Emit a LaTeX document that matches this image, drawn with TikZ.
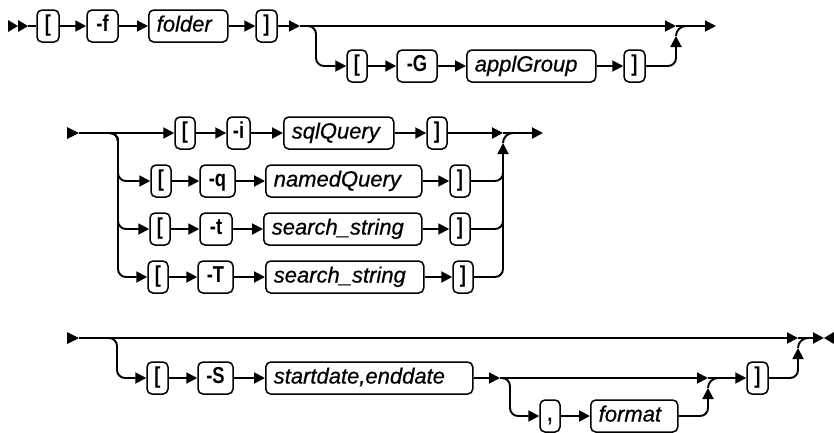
\documentclass[tikz,border=0pt]{standalone}
\usepackage{fontspec}
\setmainfont{Liberation Sans}
\newfontfamily\flagfont[FakeStretch=0.8]{Liberation Sans}
\newfontfamily\varfont[FakeBold=0.6]{Liberation Sans}
\usetikzlibrary{arrows.meta}
\tikzset{
  ln/.style={line width=1.9pt},
  ar/.style={line width=1.9pt, -{Triangle[length=11pt,width=11pt]}},
  rc/.style={rounded corners=8pt},
  tbox/.style={draw, rounded corners=5pt, line width=1.5pt, minimum height=32pt,
    inner sep=0pt, text height=16pt, text depth=5pt,
    font=\fontsize{23}{23}\selectfont\flagfont\bfseries},
  vbox/.style={tbox, anchor=west, inner xsep=8pt, align=left,
    font=\fontsize{22}{22}\selectfont\varfont\itshape},
  tri/.style={fill=black},
}
\begin{document}
\begin{tikzpicture}[x=1pt,y=-1pt]
\useasboundingbox (0,0) rectangle (834,432);
% ---------- row 1 ----------
\fill[tri] (8,20) -- (18,26) -- (8,32) -- cycle;
\fill[tri] (18,20) -- (28,26) -- (18,32) -- cycle;
\coordinate (s1) at (28,26);
\node[tbox, minimum width=22pt] (a1) at (48,26) {[};
\node[tbox, minimum width=31pt] (a2) at (102.5,26) {-f};
\node[vbox, text width=63pt] (a3) at (148,26) {folder};
\node[tbox, minimum width=21pt] (a4) at (266.5,26) {]};
\coordinate (c1) at (300,26);
\coordinate (m1) at (676,26);
\coordinate (e1) at (716,26);
\draw[ln] (s1) -- (a1);
\draw[ar] (a1) -- (a2);
\draw[ar] (a2) -- (a3);
\draw[ar] (a3) -- (a4);
\draw[ar] (a4) -- (c1);
\draw[ar] (c1) -- (m1);
\draw[ar] (m1) -- (e1);
\node[tbox, minimum width=20pt] (g1) at (357,66) {[};
\node[tbox, minimum width=40pt] (g2) at (417,66) {-G};
\node[vbox, text width=113pt] (g3) at (466,66) {applGroup};
\node[tbox, minimum width=21pt] (g4) at (634.5,66) {]};
\coordinate (u1) at (676,36);
\draw[ar, rc] (c1) -- (316,26) -- (316,66) -- (g1);
\draw[ar] (g1) -- (g2);
\draw[ar] (g2) -- (g3);
\draw[ar] (g3) -- (g4);
\draw[ar, rc] (g4) -| (u1);
\draw[ln] (u1) to[out=90,in=180] (686,26);
% ---------- row 2 ----------
\fill[tri] (67,127) -- (79,133) -- (67,139) -- cycle;
\coordinate (s2) at (79,133);
\coordinate (m2) at (503,133);
\coordinate (e2) at (543,133);
\coordinate (u2) at (503,143);
\node[tbox, minimum width=20pt] (i1) at (185,133) {[};
\node[tbox, minimum width=23pt] (i2) at (238.5,133) {-i};
\node[vbox, text width=94pt] (i3) at (283,133) {sqlQuery};
\node[tbox, minimum width=20pt] (i4) at (437,133) {]};
\draw[ar] (s2) -- (i1);
\draw[ar] (i1) -- (i2);
\draw[ar] (i2) -- (i3);
\draw[ar] (i3) -- (i4);
\draw[ar] (i4) -- (m2);
\draw[ar] (m2) -- (e2);
\draw[ln] (u2) to[out=90,in=180] (513,133);
% -q
\node[tbox, minimum width=20pt] (q1) at (161,181) {[};
\node[tbox, minimum width=35pt] (q2) at (217.5,181) {-q};
\node[vbox, text width=140pt] (q3) at (265,181) {namedQuery};
\node[tbox, minimum width=20pt] (q4) at (460,181) {]};
\draw[ar, rc] (s2) -- (118,133) -- (118,181) -- (q1);
\draw[ar] (q1) -- (q2);
\draw[ar] (q2) -- (q3);
\draw[ar] (q3) -- (q4);
\draw[ln, rc] (q4) -- (503,181) -- (503,160);
% -t
\node[tbox, minimum width=20pt] (t1) at (160,229) {[};
\node[tbox, minimum width=32pt] (t2) at (216,229) {-t};
\node[vbox, text width=142pt] (t3) at (263,229) {search\_string};
\node[tbox, minimum width=20pt] (t4) at (460,229) {]};
\draw[ar, rc] (s2) -- (118,133) -- (118,229) -- (t1);
\draw[ar] (t1) -- (t2);
\draw[ar] (t2) -- (t3);
\draw[ar] (t3) -- (t4);
\draw[ln, rc] (t4) -- (503,229) -- (503,200);
% -T
\node[tbox, minimum width=20pt] (T1) at (158,277) {[};
\node[tbox, minimum width=35pt] (T2) at (215.5,277) {-T};
\node[vbox, text width=142pt] (T3) at (265,277) {search\_string};
\node[tbox, minimum width=20pt] (T4) at (463,277) {]};
\draw[ar, rc] (s2) -- (118,133) -- (118,277) -- (T1);
\draw[ar] (T1) -- (T2);
\draw[ar] (T2) -- (T3);
\draw[ar] (T3) -- (T4);
\draw[ar, rc] (T4) -| (u2);
% ---------- row 3 ----------
\fill[tri] (67,332) -- (79,338) -- (67,344) -- cycle;
\coordinate (s3) at (79,338);
\coordinate (m3) at (798,338);
\coordinate (e3) at (824,338);
\coordinate (u3) at (798,348);
\draw[ar] (s3) -- (m3);
\draw[ar] (m3) -- (e3);
\fill[tri] (834,332) -- (824,338) -- (834,344) -- cycle;
\draw[ln] (u3) to[out=90,in=180] (808,338);
\node[tbox, minimum width=21pt] (S1) at (157.5,378) {[};
\node[tbox, minimum width=35pt] (S2) at (215.5,378) {-S};
\node[vbox, text width=191pt] (S3) at (265,378) {startdate,enddate};
\node[tbox, minimum width=21pt] (S4) at (757.5,378) {]};
\coordinate (c3) at (500,378);
\coordinate (m4) at (708,378);
\coordinate (u4) at (708,388);
\draw[ar, rc] (s3) -- (117,338) -- (117,378) -- (S1);
\draw[ar] (S1) -- (S2);
\draw[ar] (S2) -- (S3);
\draw[ar] (S3) -- (c3);
\draw[ar] (c3) -- (m4);
\draw[ar] (m4) -- (S4);
\draw[ar, rc] (S4) -| (u3);
\node[tbox, minimum width=20pt] (F1) at (550,416) {,};
\node[vbox, text width=71pt] (F2) at (590,416) {format};
\draw[ar, rc] (c3) -- (510,378) -- (510,416) -- (F1);
\draw[ar] (F1) -- (F2);
\draw[ar, rc] (F2) -| (u4);
\draw[ln] (u4) to[out=90,in=180] (718,378);
\end{tikzpicture}
\end{document}
